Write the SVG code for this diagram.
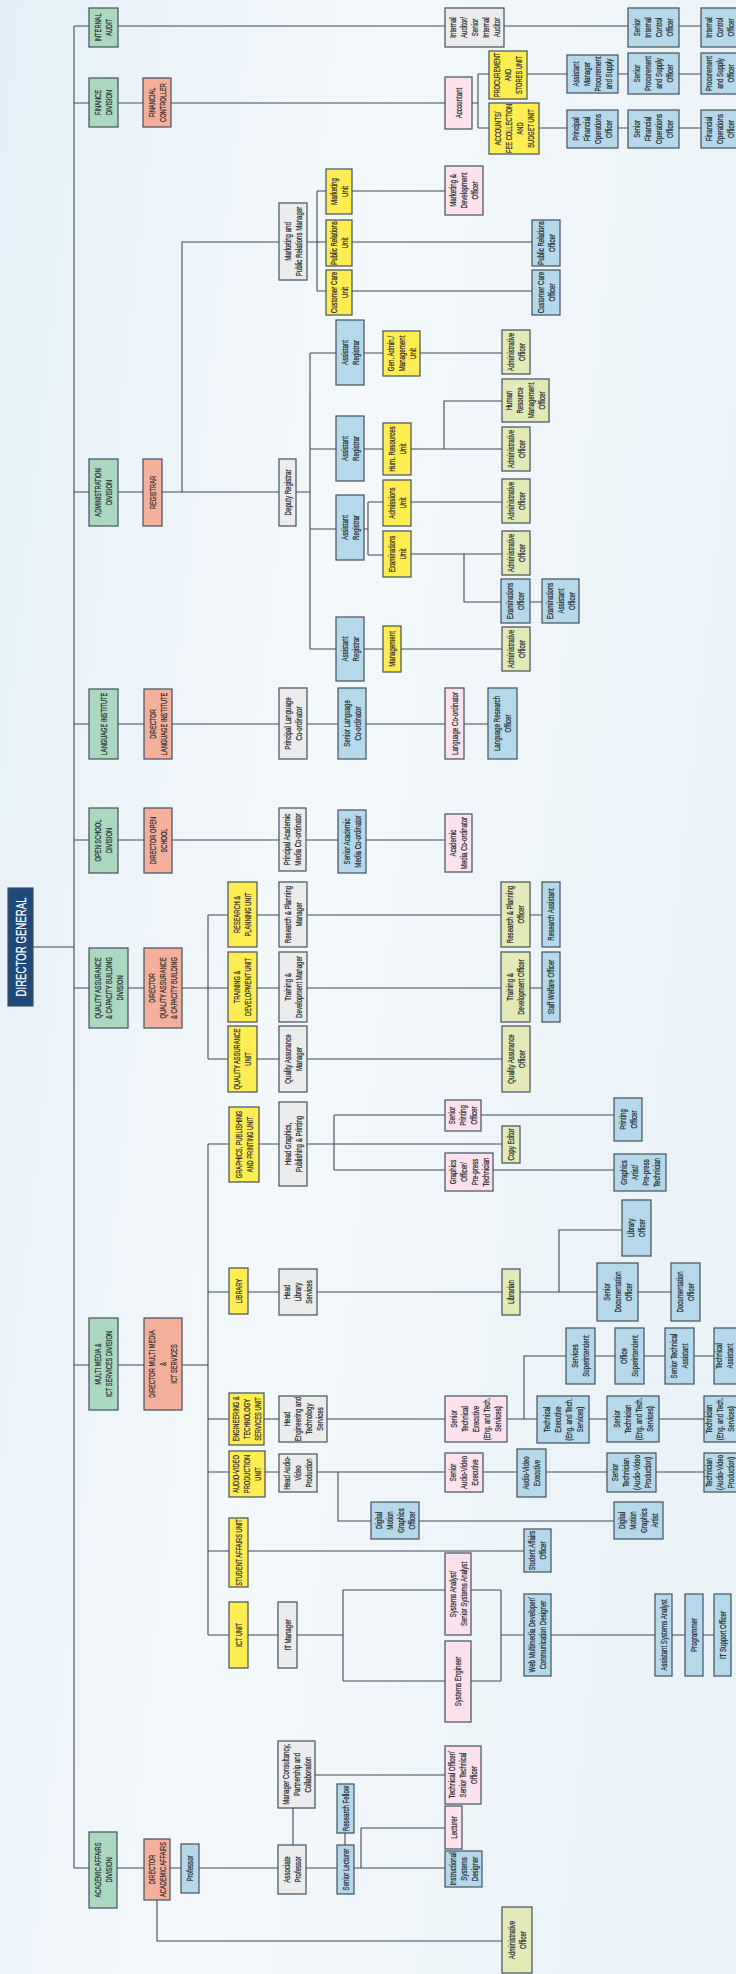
<svg xmlns="http://www.w3.org/2000/svg" width="736" height="1974" viewBox="0 0 736 1974">
<defs>
<linearGradient id="bg" x1="0" y1="0" x2="1" y2="0.3">
<stop offset="0" stop-color="#e4f0f8"/>
<stop offset="0.5" stop-color="#f4f8fa"/>
<stop offset="1" stop-color="#eaf3f8"/>
</linearGradient>
<style>
rect.n{stroke:#44505e;stroke-width:1.2}
.g{fill:#aad8c1}.s{fill:#f5b09c}.y{fill:#ffed52}.gr{fill:#ececec}.b{fill:#b5d9ea}.p{fill:#fde2ee}.k{fill:#e4e9b8}.dg{fill:#1d4a7a}
text{font-family:"Liberation Sans",Arial,sans-serif;text-anchor:middle;fill:#24292f;stroke:#24292f;stroke-width:.22}
.t{font-size:9px}
.u{font-size:9.5px}
.w{font-size:14px;fill:#ffffff;stroke:#ffffff;stroke-width:.2}
.c path{stroke:#3f4b5b;stroke-width:1.1;fill:none}
</style>
</defs>
<rect x="0" y="0" width="736" height="1974" fill="url(#bg)"/>

<g id="connectors" class="c">
<path d="M74 26V1868M33 947H74"/>
<path d="M74 26H89M118 26H445M504 26H628M679 26H701"/>
<path d="M74 103H89M118 103H143M171 103H445M472 103H478M478 74V128M478 74H489M478 128H489M527 74H567M618 74H628M679 74H701M539 128H567M618 128H628M679 128H701"/>
<path d="M74 492H89M118 492H143M162 492H279M182 492V242H279M307 242H317M317 191V291M317 191H326M317 242H326M317 291H326M352 191H445M352 242H532M352 291H532"/>
<path d="M296 492H310M310 353V649M310 353H336M310 449H336M310 529H336M310 649H336"/>
<path d="M364 353H383M420 353H502M364 449H383M411 449H502M444 449V401H502M364 529H368M368 502V555M368 502H383M368 555H383M411 502H502M411 554H502M464 554V602H501M530 602H542M364 649H383M401 649H502"/>
<path d="M74 724H89M118 724H144M172 724H279M307 724H338M366 724H445M464 724H488"/>
<path d="M74 840H89M118 840H144M172 840H279M306 840H338M366 840H445"/>
<path d="M74 988H89M128 988H144M182 988H208M208 915V1059M208 915H228M208 988H228M208 1059H228M257 915H279M257 988H279M257 1059H279M307 915H501M530 915H542M307 988H501M530 988H542M307 1059H502"/>
<path d="M74 1365H89M118 1365H144M182 1365H208M208 1144V1635M208 1144H229M208 1292H229M208 1419H229M208 1472H229M208 1551H229M208 1635H229"/>
<path d="M259 1144H279M307 1144H334M334 1115V1170M334 1115H445M334 1144H502M334 1170H445M481 1115H614M493 1170H614"/>
<path d="M248 1292H279M317 1292H502M520 1292H597M559 1292V1230H622M638 1292H671"/>
<path d="M264 1419H279M327 1419H445M507 1419H537M524 1419V1356H566M595 1356H615M644 1356H665M694 1356H714M589 1419H607M659 1419H704"/>
<path d="M265 1472H279M317 1472H445M338 1472V1521H371M483 1472H517M546 1472H607M656 1472H704M419 1521H614"/>
<path d="M248 1551H524"/>
<path d="M248 1635H278M297 1635H343M343 1590V1681M343 1590H445M343 1681H445M471 1590H501M501 1590V1681M471 1681H501M501 1635H524M551 1635H655M672 1635H685M703 1635H714"/>
<path d="M74 1868H89M117 1868H144M170 1868H181M199 1868H278M293 1808V1845M315 1775H445M306 1868H337M345 1833V1845M354 1868H361M361 1828V1868M361 1828H445M361 1868H445M157 1900V1941H502"/>
</g>

<g id="dg"><rect class="n dg" x="8" y="888" width="25" height="118"/><text class="w" transform="translate(20.5 947) rotate(-90) scale(.69 1)"><tspan x="0" y="5">DIRECTOR GENERAL</tspan></text></g>

<g id="div-audit"><rect class="n g" x="89" y="8" width="29" height="39"/><text class="u" transform="translate(103.5 27.5) rotate(-90) scale(.6 1)"><tspan x="0" y="-2.2">INTERNAL</tspan><tspan x="0" y="8.8">AUDIT</tspan></text></g>
<g id="div-finance"><rect class="n g" x="89" y="78" width="29" height="49"/><text class="u" transform="translate(103.5 102.5) rotate(-90) scale(.6 1)"><tspan x="0" y="-2.2">FINANCE</tspan><tspan x="0" y="8.8">DIVISION</tspan></text></g>
<g id="div-admin"><rect class="n g" x="89" y="459" width="29" height="67"/><text class="u" transform="translate(103.5 492.5) rotate(-90) scale(.6 1)"><tspan x="0" y="-2.2">ADMINISTRATION</tspan><tspan x="0" y="8.8">DIVISION</tspan></text></g>
<g id="div-lang"><rect class="n g" x="89" y="689" width="29" height="70"/><text class="u" transform="translate(103.5 724) rotate(-90) scale(.6 1)"><tspan x="0" y="3.3">LANGUAGE INSTITUTE</tspan></text></g>
<g id="div-open"><rect class="n g" x="89" y="808" width="29" height="65"/><text class="u" transform="translate(103.5 840.5) rotate(-90) scale(.6 1)"><tspan x="0" y="-2.2">OPEN SCHOOL</tspan><tspan x="0" y="8.8">DIVISION</tspan></text></g>
<g id="div-qa"><rect class="n g" x="89" y="948" width="39" height="80"/><text class="u" transform="translate(108.5 988) rotate(-90) scale(.6 1)"><tspan x="0" y="-7.7">QUALITY ASSURANCE</tspan><tspan x="0" y="3.3">&amp; CAPACITY BUILDING</tspan><tspan x="0" y="14.3">DIVISION</tspan></text></g>
<g id="div-mm"><rect class="n g" x="89" y="1318" width="29" height="92"/><text class="u" transform="translate(103.5 1364) rotate(-90) scale(.6 1)"><tspan x="0" y="-2.2">MULTI MEDIA &amp;</tspan><tspan x="0" y="8.8">ICT SERVICES DIVISION</tspan></text></g>
<g id="div-acad"><rect class="n g" x="89" y="1832" width="28" height="76"/><text class="u" transform="translate(103 1870) rotate(-90) scale(.6 1)"><tspan x="0" y="-2.2">ACADEMIC AFFAIRS</tspan><tspan x="0" y="8.8">DIVISION</tspan></text></g>

<g id="dir-fin"><rect class="n s" x="143" y="78" width="28" height="49"/><text class="u" transform="translate(157 102.5) rotate(-90) scale(.6 1)"><tspan x="0" y="-2.2">FINANCIAL</tspan><tspan x="0" y="8.8">CONTROLLER</tspan></text></g>
<g id="dir-reg"><rect class="n s" x="143" y="459" width="19" height="67"/><text class="u" transform="translate(152.5 492.5) rotate(-90) scale(.6 1)"><tspan x="0" y="3.3">REGISTRAR</tspan></text></g>
<g id="dir-lang"><rect class="n s" x="144" y="689" width="28" height="70"/><text class="u" transform="translate(158 724) rotate(-90) scale(.6 1)"><tspan x="0" y="-2.2">DIRECTOR</tspan><tspan x="0" y="8.8">LANGUAGE INSTITUTE</tspan></text></g>
<g id="dir-open"><rect class="n s" x="144" y="808" width="28" height="65"/><text class="u" transform="translate(158 840.5) rotate(-90) scale(.6 1)"><tspan x="0" y="-2.2">DIRECTOR OPEN</tspan><tspan x="0" y="8.8">SCHOOL</tspan></text></g>
<g id="dir-qa"><rect class="n s" x="144" y="948" width="38" height="80"/><text class="u" transform="translate(163 988) rotate(-90) scale(.6 1)"><tspan x="0" y="-7.7">DIRECTOR</tspan><tspan x="0" y="3.3">QUALITY ASSURANCE</tspan><tspan x="0" y="14.3">&amp; CAPACITY BUILDING</tspan></text></g>
<g id="dir-mm"><rect class="n s" x="144" y="1318" width="38" height="92"/><text class="u" transform="translate(163 1364) rotate(-90) scale(.6 1)"><tspan x="0" y="-7.7">DIRECTOR MULTI MEDIA</tspan><tspan x="0" y="3.3">&amp;</tspan><tspan x="0" y="14.3">ICT SERVICES</tspan></text></g>
<g id="dir-acad"><rect class="n s" x="144" y="1839" width="26" height="61"/><text class="u" transform="translate(157 1869.5) rotate(-90) scale(.6 1)"><tspan x="0" y="-2.2">DIRECTOR</tspan><tspan x="0" y="8.8">ACADEMIC AFFAIRS</tspan></text></g>

<g id="int-auditor"><rect class="n gr" x="445" y="8" width="59" height="39"/><text class="t" transform="translate(474.5 27.5) rotate(-90) scale(.68 1)"><tspan x="0" y="-18.8">Internal</tspan><tspan x="0" y="-7.8">Auditor/</tspan><tspan x="0" y="3.2">Senior</tspan><tspan x="0" y="14.2">Internal</tspan><tspan x="0" y="25.2">Auditor</tspan></text></g>
<g id="sico"><rect class="n b" x="628" y="8" width="51" height="39"/><text class="t" transform="translate(653.5 27.5) rotate(-90) scale(.68 1)"><tspan x="0" y="-13.3">Senior</tspan><tspan x="0" y="-2.3">Internal</tspan><tspan x="0" y="8.7">Control</tspan><tspan x="0" y="19.7">Officer</tspan></text></g>
<g id="ico"><rect class="n b" x="701" y="8" width="37" height="39"/><text class="t" transform="translate(719.5 27.5) rotate(-90) scale(.68 1)"><tspan x="0" y="-7.8">Internal</tspan><tspan x="0" y="3.2">Control</tspan><tspan x="0" y="14.2">Officer</tspan></text></g>
<g id="accountant"><rect class="n p" x="445" y="77" width="27" height="52"/><text class="t" transform="translate(458.5 103) rotate(-90) scale(.68 1)"><tspan x="0" y="3.2">Accountant</tspan></text></g>
<g id="proc-unit"><rect class="n y" x="489" y="51" width="38" height="48"/><text class="u" transform="translate(508 75) rotate(-90) scale(.6 1)"><tspan x="0" y="-7.7">PROCUREMENT</tspan><tspan x="0" y="3.3">AND</tspan><tspan x="0" y="14.3">STORES UNIT</tspan></text></g>
<g id="acc-unit"><rect class="n y" x="489" y="103" width="50" height="51"/><text class="u" transform="translate(514 128.5) rotate(-90) scale(.6 1)"><tspan x="0" y="-13.2">ACCOUNTS/</tspan><tspan x="0" y="-2.2">FEE COLLECTION</tspan><tspan x="0" y="8.8">AND</tspan><tspan x="0" y="19.8">BUDGET UNIT</tspan></text></g>
<g id="amps"><rect class="n b" x="567" y="55" width="51" height="38"/><text class="t" transform="translate(592.5 74) rotate(-90) scale(.68 1)"><tspan x="0" y="-13.3">Assistant</tspan><tspan x="0" y="-2.3">Manager</tspan><tspan x="0" y="8.7">Procurement</tspan><tspan x="0" y="19.7">and Supply</tspan></text></g>
<g id="spso"><rect class="n b" x="628" y="53" width="51" height="41"/><text class="t" transform="translate(653.5 73.5) rotate(-90) scale(.68 1)"><tspan x="0" y="-13.3">Senior</tspan><tspan x="0" y="-2.3">Procurement</tspan><tspan x="0" y="8.7">and Supply</tspan><tspan x="0" y="19.7">Officer</tspan></text></g>
<g id="pso"><rect class="n b" x="701" y="53" width="37" height="41"/><text class="t" transform="translate(719.5 73.5) rotate(-90) scale(.68 1)"><tspan x="0" y="-7.8">Procurement</tspan><tspan x="0" y="3.2">and Supply</tspan><tspan x="0" y="14.2">Officer</tspan></text></g>
<g id="pfoo"><rect class="n b" x="567" y="110" width="51" height="38"/><text class="t" transform="translate(592.5 129) rotate(-90) scale(.68 1)"><tspan x="0" y="-13.3">Principal</tspan><tspan x="0" y="-2.3">Financial</tspan><tspan x="0" y="8.7">Operations</tspan><tspan x="0" y="19.7">Officer</tspan></text></g>
<g id="sfoo"><rect class="n b" x="628" y="110" width="51" height="38"/><text class="t" transform="translate(653.5 129) rotate(-90) scale(.68 1)"><tspan x="0" y="-13.3">Senior</tspan><tspan x="0" y="-2.3">Financial</tspan><tspan x="0" y="8.7">Operations</tspan><tspan x="0" y="19.7">Officer</tspan></text></g>
<g id="foo"><rect class="n b" x="701" y="110" width="37" height="38"/><text class="t" transform="translate(719.5 129) rotate(-90) scale(.68 1)"><tspan x="0" y="-7.8">Financial</tspan><tspan x="0" y="3.2">Operations</tspan><tspan x="0" y="14.2">Officer</tspan></text></g>

<g id="mprm"><rect class="n gr" x="279" y="203" width="28" height="77"/><text class="t" transform="translate(293 241.5) rotate(-90) scale(.68 1)"><tspan x="0" y="-2.3">Marketing and</tspan><tspan x="0" y="8.7">Public Relations Manager</tspan></text></g>
<g id="mkt-unit"><rect class="n y" x="326" y="169" width="26" height="45"/><text class="t" transform="translate(339 191.5) rotate(-90) scale(.68 1)"><tspan x="0" y="-2.3">Marketing</tspan><tspan x="0" y="8.7">Unit</tspan></text></g>
<g id="pr-unit"><rect class="n y" x="326" y="220" width="26" height="46"/><text class="t" transform="translate(339 243) rotate(-90) scale(.68 1)"><tspan x="0" y="-2.3">Public Relations</tspan><tspan x="0" y="8.7">Unit</tspan></text></g>
<g id="cc-unit"><rect class="n y" x="326" y="270" width="26" height="45"/><text class="t" transform="translate(339 292.5) rotate(-90) scale(.68 1)"><tspan x="0" y="-2.3">Customer Care</tspan><tspan x="0" y="8.7">Unit</tspan></text></g>
<g id="mdo"><rect class="n p" x="445" y="166" width="38" height="49"/><text class="t" transform="translate(464 190.5) rotate(-90) scale(.68 1)"><tspan x="0" y="-7.8">Marketing &amp;</tspan><tspan x="0" y="3.2">Development</tspan><tspan x="0" y="14.2">Officer</tspan></text></g>
<g id="pro"><rect class="n b" x="532" y="220" width="28" height="46"/><text class="t" transform="translate(546 243) rotate(-90) scale(.68 1)"><tspan x="0" y="-2.3">Public Relations</tspan><tspan x="0" y="8.7">Officer</tspan></text></g>
<g id="cco"><rect class="n b" x="532" y="270" width="28" height="45"/><text class="t" transform="translate(546 292.5) rotate(-90) scale(.68 1)"><tspan x="0" y="-2.3">Customer Care</tspan><tspan x="0" y="8.7">Officer</tspan></text></g>

<g id="dep-reg"><rect class="n gr" x="279" y="459" width="17" height="67"/><text class="t" transform="translate(287.5 492.5) rotate(-90) scale(.68 1)"><tspan x="0" y="3.2">Deputy Registrar</tspan></text></g>
<g id="ar1"><rect class="n b" x="336" y="320" width="28" height="65"/><text class="t" transform="translate(350 352.5) rotate(-90) scale(.68 1)"><tspan x="0" y="-2.3">Assistant</tspan><tspan x="0" y="8.7">Registrar</tspan></text></g>
<g id="ar2"><rect class="n b" x="336" y="416" width="28" height="65"/><text class="t" transform="translate(350 448.5) rotate(-90) scale(.68 1)"><tspan x="0" y="-2.3">Assistant</tspan><tspan x="0" y="8.7">Registrar</tspan></text></g>
<g id="ar3"><rect class="n b" x="336" y="495" width="28" height="65"/><text class="t" transform="translate(350 527.5) rotate(-90) scale(.68 1)"><tspan x="0" y="-2.3">Assistant</tspan><tspan x="0" y="8.7">Registrar</tspan></text></g>
<g id="ar4"><rect class="n b" x="336" y="617" width="28" height="64"/><text class="t" transform="translate(350 649) rotate(-90) scale(.68 1)"><tspan x="0" y="-2.3">Assistant</tspan><tspan x="0" y="8.7">Registrar</tspan></text></g>
<g id="gamu"><rect class="n y" x="383" y="331" width="37" height="45"/><text class="t" transform="translate(401.5 353.5) rotate(-90) scale(.68 1)"><tspan x="0" y="-7.8">Gen. Admin./</tspan><tspan x="0" y="3.2">Management</tspan><tspan x="0" y="14.2">Unit</tspan></text></g>
<g id="ao1"><rect class="n k" x="502" y="330" width="28" height="44"/><text class="t" transform="translate(516 352) rotate(-90) scale(.68 1)"><tspan x="0" y="-2.3">Administrative</tspan><tspan x="0" y="8.7">Officer</tspan></text></g>
<g id="hru"><rect class="n y" x="383" y="423" width="28" height="52"/><text class="t" transform="translate(397 449) rotate(-90) scale(.68 1)"><tspan x="0" y="-2.3">Hum. Resources</tspan><tspan x="0" y="8.7">Unit</tspan></text></g>
<g id="hrmo"><rect class="n k" x="502" y="379" width="47" height="43"/><text class="t" transform="translate(525.5 400.5) rotate(-90) scale(.68 1)"><tspan x="0" y="-13.3">Human</tspan><tspan x="0" y="-2.3">Resource</tspan><tspan x="0" y="8.7">Management</tspan><tspan x="0" y="19.7">Officer</tspan></text></g>
<g id="ao2"><rect class="n k" x="502" y="427" width="28" height="44"/><text class="t" transform="translate(516 449) rotate(-90) scale(.68 1)"><tspan x="0" y="-2.3">Administrative</tspan><tspan x="0" y="8.7">Officer</tspan></text></g>
<g id="adu"><rect class="n y" x="383" y="480" width="28" height="46"/><text class="t" transform="translate(397 503) rotate(-90) scale(.68 1)"><tspan x="0" y="-2.3">Admissions</tspan><tspan x="0" y="8.7">Unit</tspan></text></g>
<g id="ao3"><rect class="n k" x="502" y="479" width="28" height="44"/><text class="t" transform="translate(516 501) rotate(-90) scale(.68 1)"><tspan x="0" y="-2.3">Administrative</tspan><tspan x="0" y="8.7">Officer</tspan></text></g>
<g id="exu"><rect class="n y" x="383" y="531" width="28" height="46"/><text class="t" transform="translate(397 554) rotate(-90) scale(.68 1)"><tspan x="0" y="-2.3">Examinations</tspan><tspan x="0" y="8.7">Unit</tspan></text></g>
<g id="ao4"><rect class="n k" x="502" y="531" width="28" height="44"/><text class="t" transform="translate(516 553) rotate(-90) scale(.68 1)"><tspan x="0" y="-2.3">Administrative</tspan><tspan x="0" y="8.7">Officer</tspan></text></g>
<g id="exo"><rect class="n b" x="501" y="579" width="29" height="44"/><text class="t" transform="translate(515.5 601) rotate(-90) scale(.68 1)"><tspan x="0" y="-2.3">Examinations</tspan><tspan x="0" y="8.7">Officer</tspan></text></g>
<g id="exao"><rect class="n b" x="542" y="579" width="37" height="44"/><text class="t" transform="translate(560.5 601) rotate(-90) scale(.68 1)"><tspan x="0" y="-7.8">Examinations</tspan><tspan x="0" y="3.2">Assistant</tspan><tspan x="0" y="14.2">Officer</tspan></text></g>
<g id="mgmt"><rect class="n y" x="383" y="626" width="18" height="46"/><text class="t" transform="translate(392 649) rotate(-90) scale(.68 1)"><tspan x="0" y="3.2">Management</tspan></text></g>
<g id="ao5"><rect class="n k" x="502" y="627" width="28" height="44"/><text class="t" transform="translate(516 649) rotate(-90) scale(.68 1)"><tspan x="0" y="-2.3">Administrative</tspan><tspan x="0" y="8.7">Officer</tspan></text></g>

<g id="plc"><rect class="n gr" x="279" y="688" width="28" height="71"/><text class="t" transform="translate(293 723.5) rotate(-90) scale(.68 1)"><tspan x="0" y="-2.3">Principal Language</tspan><tspan x="0" y="8.7">Co-ordinator</tspan></text></g>
<g id="slc"><rect class="n b" x="338" y="688" width="28" height="71"/><text class="t" transform="translate(352 723.5) rotate(-90) scale(.68 1)"><tspan x="0" y="-2.3">Senior Language</tspan><tspan x="0" y="8.7">Co-ordinator</tspan></text></g>
<g id="lc"><rect class="n p" x="445" y="688" width="19" height="71"/><text class="t" transform="translate(454.5 723.5) rotate(-90) scale(.68 1)"><tspan x="0" y="3.2">Language Co-ordinator</tspan></text></g>
<g id="lro"><rect class="n b" x="488" y="688" width="29" height="71"/><text class="t" transform="translate(502.5 723.5) rotate(-90) scale(.68 1)"><tspan x="0" y="-2.3">Language Research</tspan><tspan x="0" y="8.7">Officer</tspan></text></g>

<g id="pamc"><rect class="n gr" x="279" y="808" width="27" height="63"/><text class="t" transform="translate(292.5 839.5) rotate(-90) scale(.68 1)"><tspan x="0" y="-2.3">Principal Academic</tspan><tspan x="0" y="8.7">Media Co-ordinator</tspan></text></g>
<g id="samc"><rect class="n b" x="338" y="810" width="28" height="63"/><text class="t" transform="translate(352 841.5) rotate(-90) scale(.68 1)"><tspan x="0" y="-2.3">Senior Academic</tspan><tspan x="0" y="8.7">Media Co-ordinator</tspan></text></g>
<g id="amc"><rect class="n p" x="445" y="814" width="27" height="58"/><text class="t" transform="translate(458.5 843) rotate(-90) scale(.68 1)"><tspan x="0" y="-2.3">Academic</tspan><tspan x="0" y="8.7">Media Co-ordinator</tspan></text></g>

<g id="rpu"><rect class="n y" x="228" y="882" width="29" height="65"/><text class="u" transform="translate(242.5 914.5) rotate(-90) scale(.6 1)"><tspan x="0" y="-2.2">RESEARCH &amp;</tspan><tspan x="0" y="8.8">PLANNING UNIT</tspan></text></g>
<g id="tdu"><rect class="n y" x="228" y="952" width="29" height="70"/><text class="u" transform="translate(242.5 987) rotate(-90) scale(.6 1)"><tspan x="0" y="-2.2">TRAINING &amp;</tspan><tspan x="0" y="8.8">DEVELOPMENT UNIT</tspan></text></g>
<g id="qau"><rect class="n y" x="228" y="1026" width="29" height="66"/><text class="u" transform="translate(242.5 1059) rotate(-90) scale(.6 1)"><tspan x="0" y="-2.2">QUALITY ASSURANCE</tspan><tspan x="0" y="8.8">UNIT</tspan></text></g>
<g id="rpm"><rect class="n gr" x="279" y="882" width="28" height="65"/><text class="t" transform="translate(293 914.5) rotate(-90) scale(.68 1)"><tspan x="0" y="-2.3">Research &amp; Planning</tspan><tspan x="0" y="8.7">Manager</tspan></text></g>
<g id="tdm"><rect class="n gr" x="279" y="952" width="28" height="70"/><text class="t" transform="translate(293 987) rotate(-90) scale(.68 1)"><tspan x="0" y="-2.3">Training &amp;</tspan><tspan x="0" y="8.7">Development Manager</tspan></text></g>
<g id="qam"><rect class="n gr" x="279" y="1026" width="28" height="66"/><text class="t" transform="translate(293 1059) rotate(-90) scale(.68 1)"><tspan x="0" y="-2.3">Quality Assurance</tspan><tspan x="0" y="8.7">Manager</tspan></text></g>
<g id="rpo"><rect class="n k" x="501" y="882" width="29" height="65"/><text class="t" transform="translate(515.5 914.5) rotate(-90) scale(.68 1)"><tspan x="0" y="-2.3">Research &amp; Planning</tspan><tspan x="0" y="8.7">Officer</tspan></text></g>
<g id="ra"><rect class="n b" x="542" y="882" width="18" height="65"/><text class="t" transform="translate(551 914.5) rotate(-90) scale(.68 1)"><tspan x="0" y="3.2">Research Assistant</tspan></text></g>
<g id="tdo"><rect class="n k" x="501" y="952" width="29" height="70"/><text class="t" transform="translate(515.5 987) rotate(-90) scale(.68 1)"><tspan x="0" y="-2.3">Training &amp;</tspan><tspan x="0" y="8.7">Development Officer</tspan></text></g>
<g id="swo"><rect class="n b" x="542" y="952" width="18" height="70"/><text class="t" transform="translate(551 987) rotate(-90) scale(.68 1)"><tspan x="0" y="3.2">Staff Welfare Officer</tspan></text></g>
<g id="qao"><rect class="n k" x="502" y="1026" width="28" height="66"/><text class="t" transform="translate(516 1059) rotate(-90) scale(.68 1)"><tspan x="0" y="-2.3">Quality Assurance</tspan><tspan x="0" y="8.7">Officer</tspan></text></g>

<g id="gppu"><rect class="n y" x="229" y="1107" width="30" height="75"/><text class="u" transform="translate(244 1144.5) rotate(-90) scale(.6 1)"><tspan x="0" y="-2.2">GRAPHICS, PUBLISHING</tspan><tspan x="0" y="8.8">AND PRINTING UNIT</tspan></text></g>
<g id="hgpp"><rect class="n gr" x="279" y="1102" width="28" height="84"/><text class="t" transform="translate(293 1144) rotate(-90) scale(.68 1)"><tspan x="0" y="-2.3">Head Graphics,</tspan><tspan x="0" y="8.7">Publishing &amp; Printing</tspan></text></g>
<g id="spo"><rect class="n p" x="445" y="1100" width="36" height="31"/><text class="t" transform="translate(463 1115.5) rotate(-90) scale(.68 1)"><tspan x="0" y="-7.8">Senior</tspan><tspan x="0" y="3.2">Printing</tspan><tspan x="0" y="14.2">Officer</tspan></text></g>
<g id="po"><rect class="n b" x="614" y="1098" width="28" height="43"/><text class="t" transform="translate(628 1119.5) rotate(-90) scale(.68 1)"><tspan x="0" y="-2.3">Printing</tspan><tspan x="0" y="8.7">Officer</tspan></text></g>
<g id="ce"><rect class="n k" x="502" y="1126" width="18" height="37"/><text class="t" transform="translate(511 1144.5) rotate(-90) scale(.68 1)"><tspan x="0" y="3.2">Copy Editor</tspan></text></g>
<g id="gopt"><rect class="n p" x="445" y="1153" width="48" height="38"/><text class="t" transform="translate(469 1172) rotate(-90) scale(.68 1)"><tspan x="0" y="-13.3">Graphics</tspan><tspan x="0" y="-2.3">Officer/</tspan><tspan x="0" y="8.7">Pre-press</tspan><tspan x="0" y="19.7">Technician</tspan></text></g>
<g id="gapt"><rect class="n b" x="614" y="1154" width="52" height="37"/><text class="t" transform="translate(640 1172.5) rotate(-90) scale(.68 1)"><tspan x="0" y="-13.3">Graphics</tspan><tspan x="0" y="-2.3">Artist/</tspan><tspan x="0" y="8.7">Pre-press</tspan><tspan x="0" y="19.7">Technician</tspan></text></g>
<g id="lib"><rect class="n y" x="229" y="1268" width="19" height="46"/><text class="u" transform="translate(238.5 1291) rotate(-90) scale(.6 1)"><tspan x="0" y="3.3">LIBRARY</tspan></text></g>
<g id="hls"><rect class="n gr" x="279" y="1269" width="38" height="46"/><text class="t" transform="translate(298 1292) rotate(-90) scale(.68 1)"><tspan x="0" y="-7.8">Head</tspan><tspan x="0" y="3.2">Library</tspan><tspan x="0" y="14.2">Services</tspan></text></g>
<g id="lbn"><rect class="n k" x="502" y="1269" width="18" height="46"/><text class="t" transform="translate(511 1292) rotate(-90) scale(.68 1)"><tspan x="0" y="3.2">Librarian</tspan></text></g>
<g id="lo"><rect class="n b" x="622" y="1200" width="29" height="56"/><text class="t" transform="translate(636.5 1228) rotate(-90) scale(.68 1)"><tspan x="0" y="-2.3">Library</tspan><tspan x="0" y="8.7">Officer</tspan></text></g>
<g id="sdo"><rect class="n b" x="597" y="1263" width="41" height="58"/><text class="t" transform="translate(617.5 1292) rotate(-90) scale(.68 1)"><tspan x="0" y="-7.8">Senior</tspan><tspan x="0" y="3.2">Documentation</tspan><tspan x="0" y="14.2">Officer</tspan></text></g>
<g id="do"><rect class="n b" x="671" y="1263" width="29" height="58"/><text class="t" transform="translate(685.5 1292) rotate(-90) scale(.68 1)"><tspan x="0" y="-2.3">Documentation</tspan><tspan x="0" y="8.7">Officer</tspan></text></g>

<g id="etsu"><rect class="n y" x="229" y="1393" width="35" height="52"/><text class="u" transform="translate(246.5 1419) rotate(-90) scale(.6 1)"><tspan x="0" y="-7.7">ENGINEERING &amp;</tspan><tspan x="0" y="3.3">TECHNOLOGY</tspan><tspan x="0" y="14.3">SERVICES UNIT</tspan></text></g>
<g id="hets"><rect class="n gr" x="279" y="1396" width="48" height="46"/><text class="t" transform="translate(303 1419) rotate(-90) scale(.68 1)"><tspan x="0" y="-13.3">Head</tspan><tspan x="0" y="-2.3">Engineering and</tspan><tspan x="0" y="8.7">Technology</tspan><tspan x="0" y="19.7">Services</tspan></text></g>
<g id="ste"><rect class="n p" x="445" y="1396" width="62" height="46"/><text class="t" transform="translate(476 1419) rotate(-90) scale(.68 1)"><tspan x="0" y="-18.8">Senior</tspan><tspan x="0" y="-7.8">Technical</tspan><tspan x="0" y="3.2">Executive</tspan><tspan x="0" y="14.2">(Eng. and Tech.</tspan><tspan x="0" y="25.2">Services)</tspan></text></g>
<g id="ss"><rect class="n b" x="566" y="1328" width="29" height="56"/><text class="t" transform="translate(580.5 1356) rotate(-90) scale(.68 1)"><tspan x="0" y="-2.3">Services</tspan><tspan x="0" y="8.7">Superintendent</tspan></text></g>
<g id="os"><rect class="n b" x="615" y="1328" width="29" height="56"/><text class="t" transform="translate(629.5 1356) rotate(-90) scale(.68 1)"><tspan x="0" y="-2.3">Office</tspan><tspan x="0" y="8.7">Superintendent</tspan></text></g>
<g id="sta"><rect class="n b" x="665" y="1328" width="29" height="56"/><text class="t" transform="translate(679.5 1356) rotate(-90) scale(.68 1)"><tspan x="0" y="-2.3">Senior Technical</tspan><tspan x="0" y="8.7">Assistant</tspan></text></g>
<g id="ta"><rect class="n b" x="714" y="1328" width="29" height="56"/><text class="t" transform="translate(724 1356) rotate(-90) scale(.68 1)"><tspan x="0" y="-2.3">Technical</tspan><tspan x="0" y="8.7">Assistant</tspan></text></g>
<g id="te"><rect class="n b" x="537" y="1396" width="52" height="47"/><text class="t" transform="translate(563 1419.5) rotate(-90) scale(.68 1)"><tspan x="0" y="-13.3">Technical</tspan><tspan x="0" y="-2.3">Executive</tspan><tspan x="0" y="8.7">(Eng. and Tech.</tspan><tspan x="0" y="19.7">Services)</tspan></text></g>
<g id="stn"><rect class="n b" x="607" y="1396" width="52" height="46"/><text class="t" transform="translate(633 1419) rotate(-90) scale(.68 1)"><tspan x="0" y="-13.3">Senior</tspan><tspan x="0" y="-2.3">Technician</tspan><tspan x="0" y="8.7">(Eng. and Tech.</tspan><tspan x="0" y="19.7">Services)</tspan></text></g>
<g id="tn"><rect class="n b" x="704" y="1396" width="52" height="46"/><text class="t" transform="translate(719.5 1419) rotate(-90) scale(.68 1)"><tspan x="0" y="-7.8">Technician</tspan><tspan x="0" y="3.2">(Eng. and Tech.</tspan><tspan x="0" y="14.2">Services)</tspan></text></g>

<g id="avpu"><rect class="n y" x="229" y="1451" width="36" height="46"/><text class="u" transform="translate(247 1474) rotate(-90) scale(.6 1)"><tspan x="0" y="-7.7">AUDIO-VIDEO</tspan><tspan x="0" y="3.3">PRODUCTION</tspan><tspan x="0" y="14.3">UNIT</tspan></text></g>
<g id="havp"><rect class="n gr" x="279" y="1454" width="38" height="38"/><text class="t" transform="translate(298 1473) rotate(-90) scale(.68 1)"><tspan x="0" y="-7.8">Head Audio-</tspan><tspan x="0" y="3.2">Video</tspan><tspan x="0" y="14.2">Production</tspan></text></g>
<g id="save"><rect class="n p" x="445" y="1453" width="38" height="39"/><text class="t" transform="translate(464 1472.5) rotate(-90) scale(.68 1)"><tspan x="0" y="-7.8">Senior</tspan><tspan x="0" y="3.2">Audio-Video</tspan><tspan x="0" y="14.2">Executive</tspan></text></g>
<g id="ave"><rect class="n b" x="517" y="1449" width="29" height="48"/><text class="t" transform="translate(531.5 1473) rotate(-90) scale(.68 1)"><tspan x="0" y="-2.3">Audio-Video</tspan><tspan x="0" y="8.7">Executive</tspan></text></g>
<g id="stav"><rect class="n b" x="607" y="1453" width="49" height="39"/><text class="t" transform="translate(631.5 1472.5) rotate(-90) scale(.68 1)"><tspan x="0" y="-13.3">Senior</tspan><tspan x="0" y="-2.3">Technician</tspan><tspan x="0" y="8.7">(Audio-Video</tspan><tspan x="0" y="19.7">Production)</tspan></text></g>
<g id="tav"><rect class="n b" x="704" y="1453" width="49" height="39"/><text class="t" transform="translate(719.5 1472.5) rotate(-90) scale(.68 1)"><tspan x="0" y="-7.8">Technician</tspan><tspan x="0" y="3.2">(Audio-Video</tspan><tspan x="0" y="14.2">Production)</tspan></text></g>
<g id="dmgo"><rect class="n b" x="371" y="1502" width="48" height="37"/><text class="t" transform="translate(395 1520.5) rotate(-90) scale(.68 1)"><tspan x="0" y="-13.3">Digital</tspan><tspan x="0" y="-2.3">Motion</tspan><tspan x="0" y="8.7">Graphics</tspan><tspan x="0" y="19.7">Officer</tspan></text></g>
<g id="dmga"><rect class="n b" x="614" y="1502" width="49" height="37"/><text class="t" transform="translate(638.5 1520.5) rotate(-90) scale(.68 1)"><tspan x="0" y="-13.3">Digital</tspan><tspan x="0" y="-2.3">Motion</tspan><tspan x="0" y="8.7">Graphics</tspan><tspan x="0" y="19.7">Artist</tspan></text></g>

<g id="sau"><rect class="n y" x="229" y="1518" width="19" height="69"/><text class="u" transform="translate(238.5 1552.5) rotate(-90) scale(.6 1)"><tspan x="0" y="3.3">STUDENT AFFAIRS UNIT</tspan></text></g>
<g id="sao"><rect class="n b" x="524" y="1529" width="27" height="43"/><text class="t" transform="translate(537.5 1550.5) rotate(-90) scale(.68 1)"><tspan x="0" y="-2.3">Student Affairs</tspan><tspan x="0" y="8.7">Officer</tspan></text></g>

<g id="ictu"><rect class="n y" x="229" y="1602" width="19" height="66"/><text class="u" transform="translate(238.5 1635) rotate(-90) scale(.6 1)"><tspan x="0" y="3.3">ICT UNIT</tspan></text></g>
<g id="itm"><rect class="n gr" x="278" y="1602" width="19" height="66"/><text class="t" transform="translate(287.5 1635) rotate(-90) scale(.68 1)"><tspan x="0" y="3.2">IT Manager</tspan></text></g>
<g id="sa"><rect class="n p" x="445" y="1553" width="26" height="82"/><text class="t" transform="translate(458 1594) rotate(-90) scale(.68 1)"><tspan x="0" y="-2.3">Systems Analyst/</tspan><tspan x="0" y="8.7">Senior Systems Analyst</tspan></text></g>
<g id="se"><rect class="n p" x="445" y="1641" width="26" height="81"/><text class="t" transform="translate(458 1681.5) rotate(-90) scale(.68 1)"><tspan x="0" y="3.2">Systems Engineer</tspan></text></g>
<g id="wmd"><rect class="n b" x="524" y="1594" width="27" height="82"/><text class="t" transform="translate(537.5 1635) rotate(-90) scale(.68 1)"><tspan x="0" y="-2.3">Web Multimedia Developer/</tspan><tspan x="0" y="8.7">Communication Designer</tspan></text></g>
<g id="asa"><rect class="n b" x="655" y="1594" width="17" height="82"/><text class="t" transform="translate(663.5 1635) rotate(-90) scale(.68 1)"><tspan x="0" y="3.2">Assistant Systems Analyst</tspan></text></g>
<g id="prg"><rect class="n b" x="685" y="1594" width="18" height="82"/><text class="t" transform="translate(694 1635) rotate(-90) scale(.68 1)"><tspan x="0" y="3.2">Programmer</tspan></text></g>
<g id="itso"><rect class="n b" x="714" y="1594" width="17" height="82"/><text class="t" transform="translate(722.5 1635) rotate(-90) scale(.68 1)"><tspan x="0" y="3.2">IT Support Officer</tspan></text></g>

<g id="prof"><rect class="n b" x="181" y="1844" width="18" height="49"/><text class="t" transform="translate(190 1868.5) rotate(-90) scale(.68 1)"><tspan x="0" y="3.2">Professor</tspan></text></g>
<g id="assoc"><rect class="n gr" x="278" y="1845" width="28" height="49"/><text class="t" transform="translate(292 1869.5) rotate(-90) scale(.68 1)"><tspan x="0" y="-2.3">Associate</tspan><tspan x="0" y="8.7">Professor</tspan></text></g>
<g id="mcpc"><rect class="n gr" x="278" y="1741" width="37" height="67"/><text class="t" transform="translate(296.5 1774.5) rotate(-90) scale(.68 1)"><tspan x="0" y="-7.8">Manager Consultancy,</tspan><tspan x="0" y="3.2">Partnership and</tspan><tspan x="0" y="14.2">Collaboration</tspan></text></g>
<g id="tosto"><rect class="n p" x="445" y="1746" width="36" height="58"/><text class="t" transform="translate(463 1775) rotate(-90) scale(.68 1)"><tspan x="0" y="-7.8">Technical Officer/</tspan><tspan x="0" y="3.2">Senior Technical</tspan><tspan x="0" y="14.2">Officer</tspan></text></g>
<g id="sl"><rect class="n b" x="337" y="1845" width="17" height="49"/><text class="t" transform="translate(345.5 1869.5) rotate(-90) scale(.68 1)"><tspan x="0" y="3.2">Senior Lecturer</tspan></text></g>
<g id="rf"><rect class="n b" x="337" y="1784" width="17" height="49"/><text class="t" transform="translate(345.5 1808.5) rotate(-90) scale(.68 1)"><tspan x="0" y="3.2">Research Fellow</tspan></text></g>
<g id="lec"><rect class="n p" x="445" y="1806" width="17" height="43"/><text class="t" transform="translate(453.5 1827.5) rotate(-90) scale(.68 1)"><tspan x="0" y="3.2">Lecturer</tspan></text></g>
<g id="isd"><rect class="n b" x="445" y="1851" width="37" height="36"/><text class="t" transform="translate(463.5 1869) rotate(-90) scale(.68 1)"><tspan x="0" y="-7.8">Instructional</tspan><tspan x="0" y="3.2">Systems</tspan><tspan x="0" y="14.2">Designer</tspan></text></g>
<g id="ao6"><rect class="n k" x="502" y="1907" width="30" height="66"/><text class="t" transform="translate(517 1940) rotate(-90) scale(.68 1)"><tspan x="0" y="-2.3">Administrative</tspan><tspan x="0" y="8.7">Officer</tspan></text></g>
</svg>
